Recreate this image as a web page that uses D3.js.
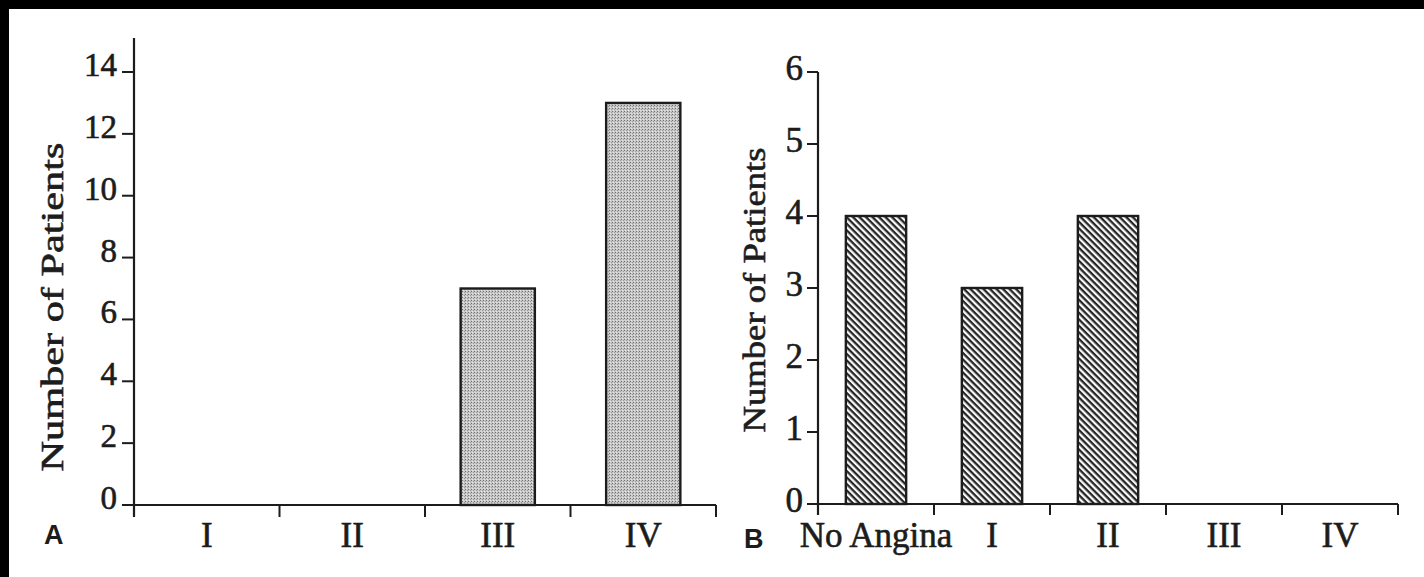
<!DOCTYPE html>
<html>
<head>
<meta charset="utf-8">
<script src="https://cdn.jsdelivr.net/npm/d3@7"></script>
<style>
  html, body { margin: 0; padding: 0; background: #000; }
  svg { display: block; }
  .serif { font-family: 'Liberation Serif', 'Times New Roman', serif; fill: #1c1c1c; stroke: #1c1c1c; stroke-width: 0.6px; }
</style>
</head>
<body>
<svg id="chart" width="1424" height="577"></svg>
<script>
// Panel A: patients by class before treatment
const categoriesA = ["I", "II", "III", "IV"];
const valuesA = [0, 0, 7, 13];
const ticksA = [0, 2, 4, 6, 8, 10, 12, 14];

// Panel B: patients by angina class after treatment
const categoriesB = ["No Angina", "I", "II", "III", "IV"];
const valuesB = [4, 3, 4, 0, 0];
const ticksB = [0, 1, 2, 3, 4, 5, 6];

const yTitle = "Number of Patients";
const ink = "#1c1c1c";
const sans = "'Liberation Sans', Arial, sans-serif";

const svg = d3.select("#chart");

// paper
svg.append("rect").attr("x", 9).attr("y", 9).attr("width", 1415).attr("height", 568).attr("fill", "#fff");

// fills
const defs = svg.append("defs");
const stip = defs.append("pattern").attr("id", "stipple")
  .attr("patternUnits", "userSpaceOnUse").attr("width", 3).attr("height", 3);
stip.append("rect").attr("width", 3).attr("height", 3).attr("fill", "#c8c8c8");
stip.append("rect").attr("x", 0).attr("y", 0).attr("width", 1).attr("height", 1).attr("fill", "#6e6e6e");
stip.append("rect").attr("x", 2).attr("y", 1).attr("width", 1).attr("height", 1).attr("fill", "#9a9a9a");
stip.append("rect").attr("x", 1).attr("y", 2).attr("width", 1).attr("height", 1).attr("fill", "#e6e6e6");

const hatch = defs.append("pattern").attr("id", "hatch")
  .attr("patternUnits", "userSpaceOnUse").attr("width", 4.6).attr("height", 4.6)
  .attr("patternTransform", "rotate(45)");
hatch.append("rect").attr("width", 4.6).attr("height", 4.6).attr("fill", "#fafafa");
hatch.append("rect").attr("width", 4.6).attr("height", 2.3).attr("fill", "#262626");

function panel(opt) {
  const g = svg.append("g");
  const y = d3.scaleLinear().domain(opt.yDomain).range([opt.y0, opt.y1]);
  const x = d3.scaleBand().domain(opt.categories).range([opt.x0, opt.x1]);

  // bars
  g.selectAll("rect.bar").data(opt.categories.map((c, i) => ({ c, v: opt.values[i] })).filter(d => d.v > 0))
    .join("rect").attr("class", "bar")
    .attr("x", d => x(d.c) + x.bandwidth() * (1 - opt.barRatio) / 2)
    .attr("width", x.bandwidth() * opt.barRatio)
    .attr("y", d => y(d.v))
    .attr("height", d => y(0) - y(d.v))
    .attr("fill", opt.fill).attr("stroke", ink).attr("stroke-width", 2.4);

  // y axis
  g.append("line").attr("x1", opt.x0).attr("x2", opt.x0)
    .attr("y1", opt.axisTop).attr("y2", y(0) + opt.tick)
    .attr("stroke", ink).attr("stroke-width", 2.2);
  g.selectAll("line.yt").data(opt.ticks).join("line").attr("class", "yt")
    .attr("x1", opt.x0 - opt.tick).attr("x2", opt.x0)
    .attr("y1", d => y(d)).attr("y2", d => y(d))
    .attr("stroke", ink).attr("stroke-width", 2);
  g.selectAll("text.yl").data(opt.ticks).join("text").attr("class", "yl serif")
    .attr("x", opt.x0 - opt.tick - opt.labelGap).attr("y", d => y(d) + opt.labelDy)
    .attr("text-anchor", "end").attr("font-size", opt.yFont)
    .text(d => d);

  // x axis with boundary ticks
  g.append("line").attr("x1", opt.x0).attr("x2", opt.x1)
    .attr("y1", y(0)).attr("y2", y(0))
    .attr("stroke", ink).attr("stroke-width", 2.2);
  const bounds = opt.categories.map(c => x(c)).concat([opt.x1]);
  g.selectAll("line.xt").data(bounds).join("line").attr("class", "xt")
    .attr("x1", d => d).attr("x2", d => d)
    .attr("y1", y(0)).attr("y2", y(0) + opt.tick)
    .attr("stroke", ink).attr("stroke-width", 2);
  g.selectAll("text.xl").data(opt.categories).join("text").attr("class", "xl serif")
    .attr("x", d => x(d) + x.bandwidth() / 2).attr("y", 547)
    .attr("text-anchor", "middle").attr("font-size", 35)
    .text(d => d);

  // axis title
  g.append("text").attr("class", "serif")
    .attr("transform", `translate(${opt.titleX},${opt.titleY}) rotate(-90)`)
    .attr("text-anchor", "middle").attr("font-size", opt.titleFont)
    .attr("textLength", opt.titleLen).attr("lengthAdjust", "spacingAndGlyphs")
    .text(yTitle);

  // panel letter
  g.append("text").attr("x", opt.letterX).attr("y", opt.letterY)
    .attr("font-family", sans).attr("font-weight", "bold").attr("font-size", 27)
    .attr("fill", ink).text(opt.letter);
}

panel({
  categories: categoriesA, values: valuesA, ticks: ticksA,
  yDomain: [0, 14], y0: 505, y1: 72, axisTop: 38,
  x0: 134, x1: 716, barRatio: 0.51, fill: "url(#stipple)",
  tick: 12, labelGap: 5, labelDy: 4, yFont: 33,
  titleX: 63, titleY: 307, titleFont: 31, titleLen: 329,
  letter: "A", letterX: 44, letterY: 544
});

panel({
  categories: categoriesB, values: valuesB, ticks: ticksB,
  yDomain: [0, 6], y0: 504, y1: 72, axisTop: 72,
  x0: 818, x1: 1398, barRatio: 0.52, fill: "url(#hatch)",
  tick: 11, labelGap: 4, labelDy: 8, yFont: 35,
  titleX: 765, titleY: 290, titleFont: 32, titleLen: 285,
  letter: "B", letterX: 744, letterY: 548
});
</script>
</body>
</html>
